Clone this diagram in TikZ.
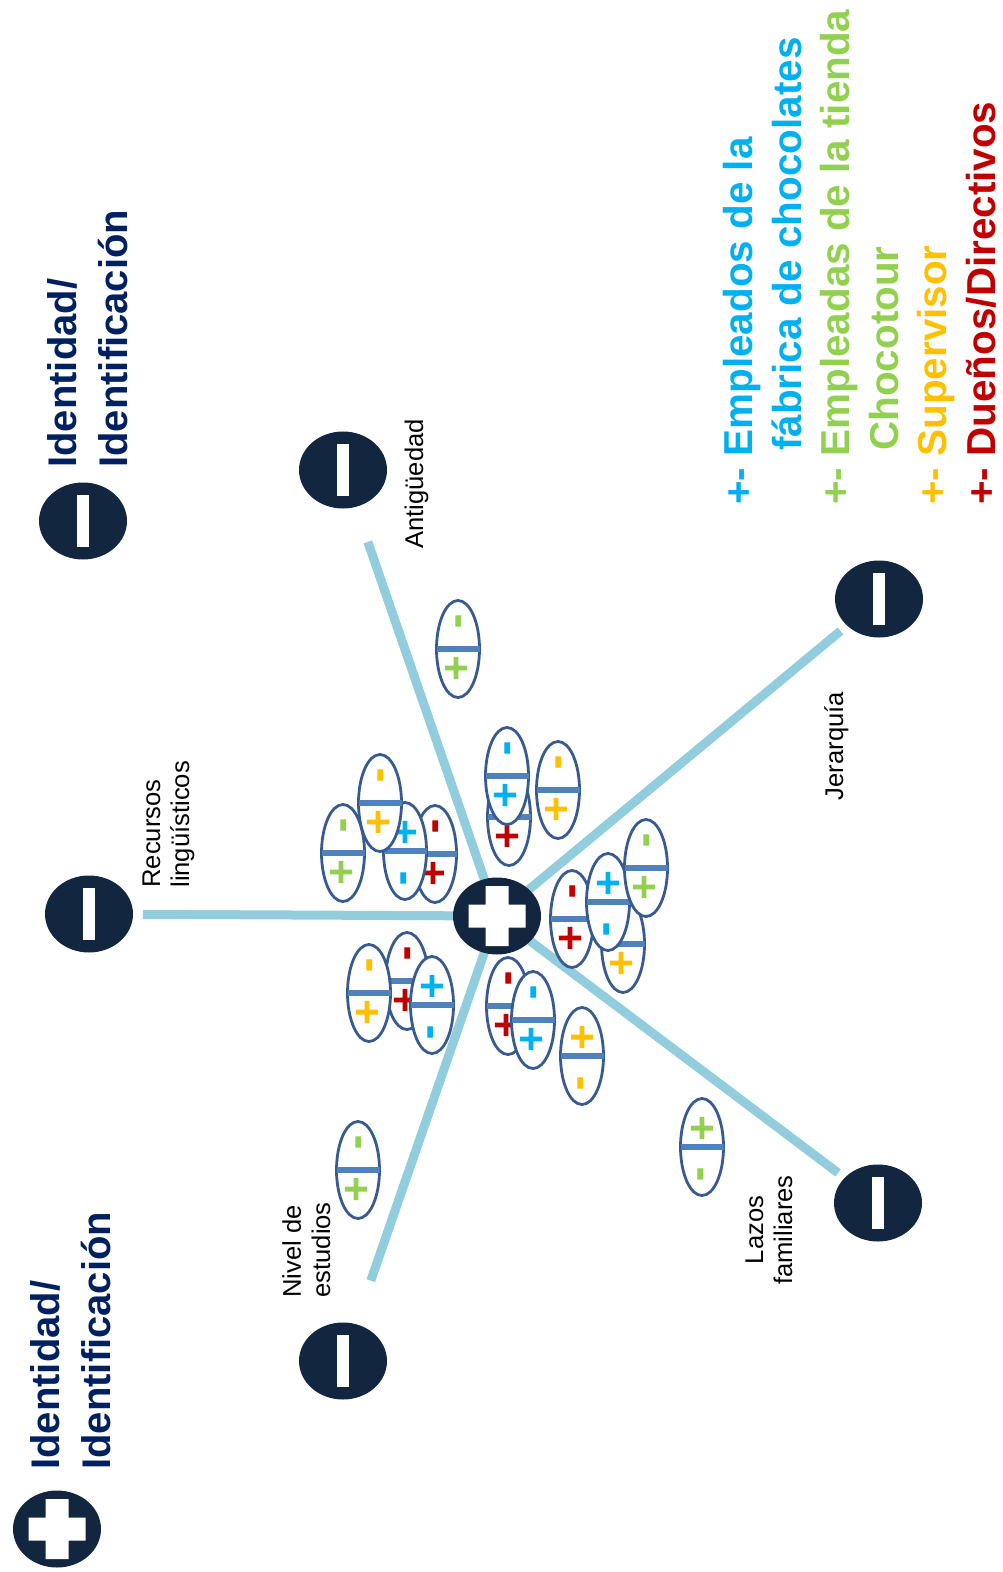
\documentclass[tikz,border=0pt]{standalone}
\usepackage{xcolor}
\usepackage{fontspec}
\setmainfont{Liberation Sans}
\newfontfamily\signos[BoldFeatures={FakeBold=3}]{DejaVu Sans}
\usepackage{tikz}
\usetikzlibrary{shapes.geometric,backgrounds}

\definecolor{marino}{RGB}{19,38,64}
\definecolor{celeste}{RGB}{146,205,221}
\definecolor{azultitulo}{RGB}{0,32,96}
\definecolor{borde}{RGB}{55,90,145}
\definecolor{azuldiv}{RGB}{79,129,189}
\definecolor{cian}{RGB}{0,176,240}
\definecolor{verde}{RGB}{146,208,80}
\definecolor{naranja}{RGB}{255,192,0}
\definecolor{rojo}{RGB}{192,0,0}

\tikzset{
  polo/.style={ellipse, fill=marino, minimum width=44pt, minimum height=38.5pt, inner sep=0pt},
  radio/.style={line width=4.5pt, draw=celeste},
  ficha/.style={ellipse, draw=borde, line width=1.4pt, fill=white, minimum width=21.5pt, minimum height=48.5pt, inner sep=0pt, outer sep=0pt},
  divisor/.style={line width=2.8pt, draw=azuldiv},
  signo/.style={rotate=90, inner sep=0pt, font=\signos\bfseries\fontsize{17}{17}\selectfont},
  etiqueta/.style={rotate=90, inner sep=0pt, font=\fontsize{12.8}{14.6}\selectfont},
  titulo/.style={rotate=90, inner sep=0pt, align=left, anchor=north west, text=azultitulo, font=\bfseries\fontsize{20}{25.5}\selectfont},
  leyenda/.style={rotate=90, inner sep=0pt, anchor=base west, font=\bfseries\fontsize{20.2}{24}\selectfont}
}

% ficha con el menos arriba
\newcommand{\fichaneg}[4]{%
  \node[ficha] (#1) at (#2,#3) {};
  \draw[divisor] (#1.west) -- (#1.east);
  \node[yshift=14pt, xshift=2pt, signo, text=#4] (#1a) at (#2,#3) {-};
  \node[yshift=-9.5pt, xshift=-1pt, signo, text=#4] (#1b) at (#2,#3) {+};
}
% ficha con el mas arriba
\newcommand{\fichapos}[4]{%
  \node[ficha] (#1) at (#2,#3) {};
  \draw[divisor] (#1.west) -- (#1.east);
  \node[yshift=9.5pt, signo, text=#4] (#1a) at (#2,#3) {+};
  \node[yshift=-13.5pt, xshift=1pt, signo, text=#4] (#1b) at (#2,#3) {-};
}

\begin{document}
\begin{tikzpicture}[x=0.5pt, y=-0.5pt]
    \useasboundingbox (0,0) rectangle (1002,1572);

    \node[polo] (centro) at (497,916) {};
    \node[polo] (pIdSup) at (83,521) {};
    \node[polo] (pAnt) at (343,470) {};
    \node[polo] (pJer) at (879,599) {};
    \node[polo] (pRec) at (89,914) {};
    \node[polo] (pNiv) at (343,1361) {};
    \node[polo] (pLaz) at (878,1203) {};
    \node[polo] (pIdInf) at (57,1529) {};

    \begin{scope}[on background layer]
      \draw[radio, shorten >=38pt] (centro.center) -- (pAnt.center);
      \draw[radio, shorten >=25pt] (centro.center) -- (pJer.center);
      \draw[radio, shorten >=27pt] (centro.center) -- (pRec.center);
      \draw[radio, shorten >=42.5pt] (centro.center) -- (pNiv.center);
      \draw[radio, shorten >=25pt] (centro.center) -- (pLaz.center);
    \end{scope}

    \foreach \p in {pIdSup,pAnt,pJer,pRec,pNiv,pLaz}
      \fill[white, shift={(\p.center)}] (-3pt,-13pt) rectangle (3pt,13pt);
    \foreach \p in {centro,pIdInf}
      \fill[white, shift={(\p.center)}] (-14.25pt,-5.75pt) rectangle (14.25pt,5.75pt)
        (-5.75pt,-15pt) rectangle (5.75pt,15pt);

    \fichaneg{f4}{435}{854}{rojo}
    \fichapos{f3}{405}{851}{cian}
    \fichaneg{f1}{343}{853}{verde}
    \fichaneg{f2}{380}{803}{naranja}

    \fichaneg{f5}{509}{817}{rojo}
    \fichaneg{f6}{507}{776}{cian}
    \fichaneg{f7}{558}{790}{naranja}

    \fichaneg{f9}{623}{944}{naranja}
    \fichaneg{f8}{572}{919}{rojo}
    \fichapos{f10}{608}{902}{cian}
    \fichaneg{f11}{646}{868}{verde}

    \fichaneg{f13}{407}{981}{rojo}
    \fichaneg{f12}{369}{993}{naranja}
    \fichapos{f14}{432}{1005}{cian}

    \fichaneg{f15}{508}{1006}{rojo}
    \fichaneg{f16}{533}{1020}{cian}
    \fichapos{f17}{582}{1056}{naranja}

    \fichaneg{f18}{458}{649}{verde}
    \fichaneg{f19}{358}{1170}{verde}
    \fichapos{f20}{702}{1147}{verde}

    \node[etiqueta, anchor=base] (lAnt) at (423,484) {Antigüedad};
    \node[etiqueta, anchor=base] (lJer) at (843,746) {Jerarquía};
    \node[etiqueta, anchor=north west, align=left] (lRec) at (142,888) {Recursos\\lingüísticos};
    \node[etiqueta, anchor=north west, align=left] (lNiv) at (282,1298) {Nivel de\\estudios};
    \node[etiqueta, anchor=north, align=center] (lLaz) at (745,1230) {Lazos\\familiares};

    \node[titulo] (tSup) at (47,468) {Identidad/\\Identificación};
    \node[titulo] (tInf) at (30,1470) {Identidad/\\Identificación};

    \node[leyenda, text=cian] (ley1) at (752,505) {+- Empleados de la};
    \node[leyenda, text=cian] (ley2) at (801,505) {\hspace*{27pt}fábrica de chocolates};
    \node[leyenda, text=verde] (ley3) at (849,505) {+- Empleadas de la tienda};
    \node[leyenda, text=verde] (ley4) at (898,505) {\hspace*{27pt}Chocotour};
    \node[leyenda, text=naranja] (ley5) at (946,505) {+- Supervisor};
    \node[leyenda, text=rojo] (ley6) at (995,505) {+- Dueños/Directivos};
\end{tikzpicture}
\end{document}
